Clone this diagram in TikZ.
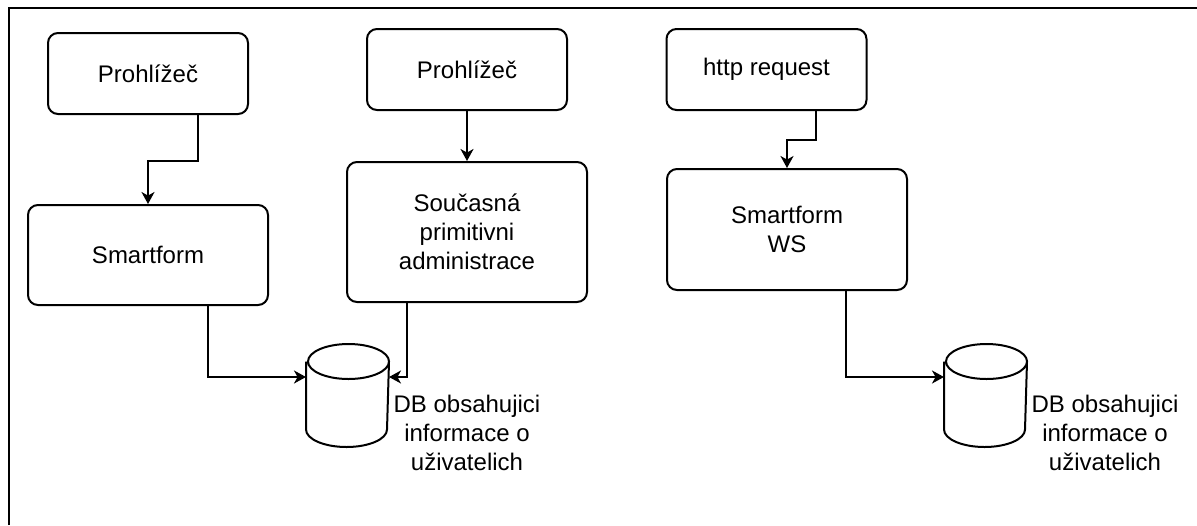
\documentclass[tikz,border=0pt]{standalone}
\usepackage{fontspec}
\setmainfont{Liberation Sans}
\usetikzlibrary{arrows.meta, positioning}

\begin{document}
\begin{tikzpicture}[
    x=0.5pt, y=-0.5pt,
    ->, >={Stealth[length=6pt, width=6.5pt, inset=1.8pt]},
    line width=1pt, draw=black,
    box/.style={draw, rounded corners=5pt, align=center, inner sep=0pt,
        font=\fontsize{12}{14.5}\selectfont},
    db/.style={minimum width=40.5pt, minimum height=50.5pt, inner sep=0pt},
    db label/.style={align=center, inner sep=0pt, font=\fontsize{12}{14.5}\selectfont}
]
\useasboundingbox (0,0) rectangle (1197,525);

% frame
\draw[-] (8.5,525) -- (8.5,7.5) -- (1197,7.5);

\node[box, minimum width=100pt, minimum height=40.5pt] (prohl1) at (148,73.5) {Prohlížeč};
\node[box, minimum width=120pt, minimum height=50pt] (smart) at (148,255) {Smartform};
\node[box, minimum width=100pt, minimum height=40.5pt] (prohl2) at (467,69.5) {Prohlížeč};
\node[box, minimum width=120pt, minimum height=70pt] (admin) at (467,232) {Současná\\primitivni\\administrace};
\node[box, minimum width=100pt, minimum height=40.5pt] (http) at (766.5,69.5) {http request};
\node[box, minimum width=120pt, minimum height=60.5pt] (ws) at (787,229.5) {Smartform\\WS};

\node[db] (db1) at (347.5,395.5) {};
\node[db] (db2) at (985.5,395.5) {};
\node[db label] (lbl1) at (467,433) {DB obsahujici\\informace o\\uživatelich};
\node[db label] (lbl2) at (1105,433) {DB obsahujici\\informace o\\uživatelich};

% cylinders
\foreach \n in {db1, db2} {
    \draw[-] ([yshift=-8.75pt]\n.north west) -- ([yshift=8.75pt]\n.south west)
        arc[start angle=180, end angle=360, x radius=20.25pt, y radius=8.75pt]
        -- ([yshift=-8.75pt]\n.north east)
        arc[start angle=0, end angle=360, x radius=20.25pt, y radius=8.75pt];
}

\draw ([xshift=25pt]prohl1.south) -- ++(0,46) -| (smart.north);
\draw (prohl2) -- (admin);
\draw ([xshift=24.5pt]http.south) -- ++(0,29) -| (ws.north);
\draw ([xshift=30pt]smart.south) |- ([yshift=9.25pt]db1.west);
\draw ([xshift=-30pt]admin.south) |- ([yshift=9.25pt]db1.east);
\draw ([xshift=29.5pt]ws.south) |- ([yshift=9.25pt]db2.west);
\end{tikzpicture}
\end{document}
